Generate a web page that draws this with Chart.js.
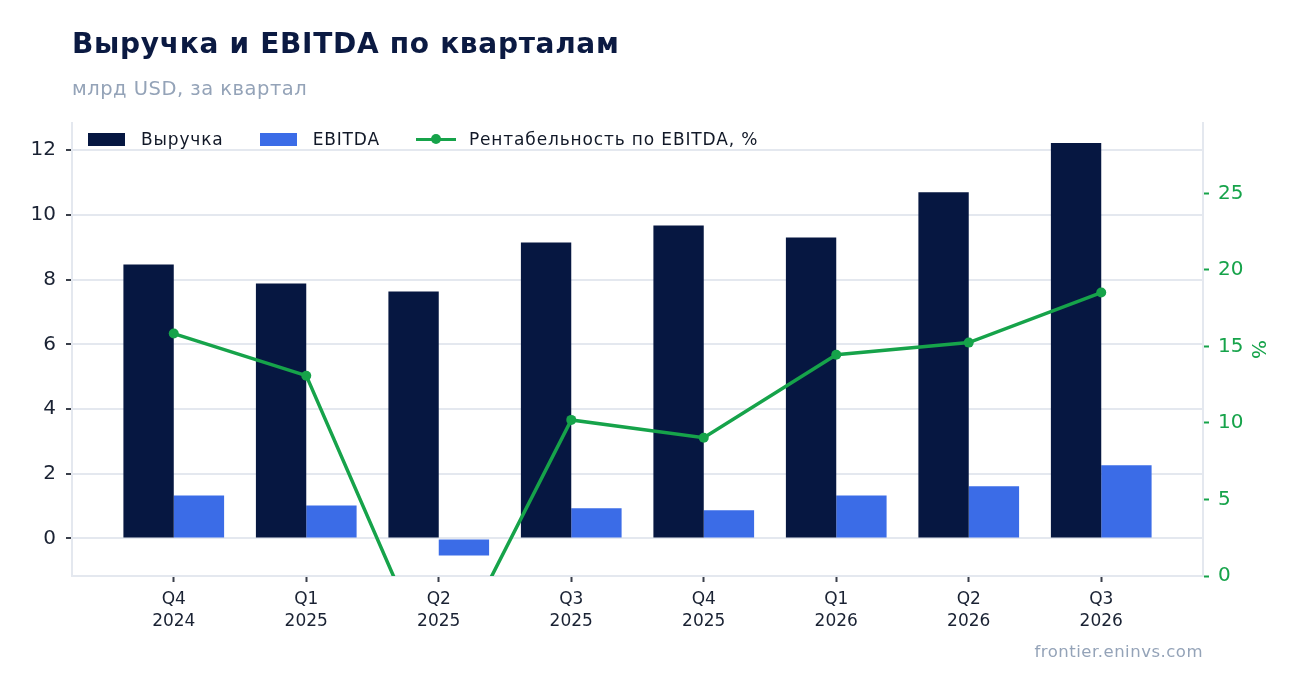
<!DOCTYPE html>
<html><head><meta charset="utf-8">
<script src="https://cdn.jsdelivr.net/npm/chart.js@4.4.1/dist/chart.umd.min.js"></script>
<style>
html,body{margin:0;padding:0;background:#fff;}
body{width:1302px;height:693px;position:relative;overflow:hidden;font-family:"DejaVu Sans",sans-serif;}
#c{position:absolute;left:0;top:0;}
#title{position:absolute;left:72px;top:29.6px;font-size:28px;line-height:28px;letter-spacing:0.7px;font-weight:bold;color:#0b1a42;white-space:nowrap;}
#sub{position:absolute;left:72px;top:78.5px;font-size:19.5px;line-height:19.5px;letter-spacing:0.5px;color:#94a3b8;white-space:nowrap;}
#foot{position:absolute;right:99px;top:644px;font-size:16.5px;line-height:16.5px;letter-spacing:0.5px;color:#94a3b8;white-space:nowrap;}
#legend{position:absolute;left:88px;top:130.5px;display:flex;align-items:center;font-size:17px;line-height:17px;letter-spacing:0.85px;color:#111827;white-space:nowrap;}
.item{display:flex;align-items:center;margin-right:36px;}
.sw{width:37px;height:13px;margin-right:16px;}
.ln{width:40px;height:13px;margin-right:13px;position:relative;}
.ln:before{content:"";position:absolute;left:0;right:0;top:5px;height:3.5px;background:#16a34a;}
.ln:after{content:"";position:absolute;left:15px;top:1.5px;width:10px;height:10px;border-radius:50%;background:#16a34a;}
</style>
</head><body>
<canvas id="c" width="1302" height="693"></canvas>
<div id="title">Выручка и EBITDA по кварталам</div>
<div id="sub">млрд USD, за квартал</div>
<div id="legend"></div>
<div id="foot">frontier.eninvs.com</div>
<script>
const categories = [["Q4","2024"],["Q1","2025"],["Q2","2025"],["Q3","2025"],["Q4","2025"],["Q1","2026"],["Q2","2026"],["Q3","2026"]];
const revenue = [8.47, 7.88, 7.63, 9.15, 9.67, 9.30, 10.70, 12.22];
const ebitda = [1.33, 1.02, -0.53, 0.93, 0.87, 1.33, 1.61, 2.26];
const margin = [15.84, 13.09, -6.8, 10.2, 9.03, 14.46, 15.25, 18.52];
const leftTicks = [0, 2, 4, 6, 8, 10, 12];
const rightTicks = [0, 5, 10, 15, 20, 25];
const seriesNames = ["Выручка", "EBITDA", "Рентабельность по EBITDA, %"];

const NAVY = '#061741', BLUE = '#3b6ce7', GREEN = '#16a34a';
const GRID = '#e4e8ef', TICK = '#3a3f4a', LABEL = '#1a2233';
const FONT = '"DejaVu Sans", sans-serif';

const pts = arr => arr.map((v, i) => ({x: i, y: v}));

// HTML legend
const lg = document.getElementById('legend');
[[NAVY,'sw'],[BLUE,'sw'],[GREEN,'ln']].forEach((s, i) => {
  const it = document.createElement('div'); it.className = 'item';
  const sw = document.createElement('span'); sw.className = s[1];
  if (s[1] === 'sw') sw.style.background = s[0];
  const tx = document.createElement('span'); tx.textContent = seriesNames[i];
  it.appendChild(sw); it.appendChild(tx); lg.appendChild(it);
});

new Chart(document.getElementById('c').getContext('2d'), {
  data: {
    datasets: [
      {type:'bar', label:seriesNames[0], data:pts(revenue), backgroundColor:NAVY, yAxisID:'y', categoryPercentage:0.76, barPercentage:1, order:2},
      {type:'bar', label:seriesNames[1], data:pts(ebitda), backgroundColor:BLUE, yAxisID:'y', categoryPercentage:0.76, barPercentage:1, order:2},
      {type:'line', label:seriesNames[2], data:pts(margin), borderColor:GREEN, backgroundColor:GREEN, borderWidth:3.5, pointRadius:5, pointBorderWidth:0, pointHoverRadius:5, yAxisID:'y2', order:1, tension:0}
    ]
  },
  options: {
    responsive:false, animation:false, devicePixelRatio:1,
    layout:{padding:{top:123, left:0, right:0, bottom:0}},
    plugins:{legend:{display:false}, tooltip:{enabled:false}, title:{display:false}},
    scales:{
      x:{
        type:'linear', position:'bottom', min:-0.768, max:7.768, offset:false,
        afterFit: s => { s.height = 117; },
        afterBuildTicks: s => { s.ticks = categories.map((c, i) => ({value:i})); },
        ticks:{callback:(v) => categories[v], font:{family:FONT, size:17, lineHeight:1.27}, color:LABEL, padding:7, maxRotation:0, autoSkip:false},
        grid:{display:true, offset:false, drawOnChartArea:false, color:'rgba(0,0,0,0)', tickColor:TICK, tickLength:6, tickWidth:2},
        border:{display:true, color:GRID, width:2}
      },
      y:{
        type:'linear', position:'left', min:-1.16, max:12.84,
        afterFit: s => { s.width = 72; },
        afterBuildTicks: s => { s.ticks = leftTicks.map(v => ({value:v})); },
        ticks:{font:{family:FONT, size:20}, color:LABEL, padding:10},
        grid:{color:GRID, lineWidth:2, tickColor:TICK, tickLength:6, tickWidth:2},
        border:{display:true, color:GRID, width:2}
      },
      y2:{
        type:'linear', position:'right', min:0, max:29.6,
        afterFit: s => { s.width = 99; },
        afterBuildTicks: s => { s.ticks = rightTicks.map(v => ({value:v})); },
        ticks:{font:{family:FONT, size:20}, color:GREEN, padding:9},
        grid:{drawOnChartArea:false, color:GREEN, tickColor:GREEN, tickLength:6, tickWidth:2},
        border:{display:true, color:GRID, width:2},
        title:{display:true, text:'%', color:GREEN, font:{family:FONT, size:20}, padding:{top:33, bottom:4}}
      }
    }
  }
});
</script>
</body></html>
